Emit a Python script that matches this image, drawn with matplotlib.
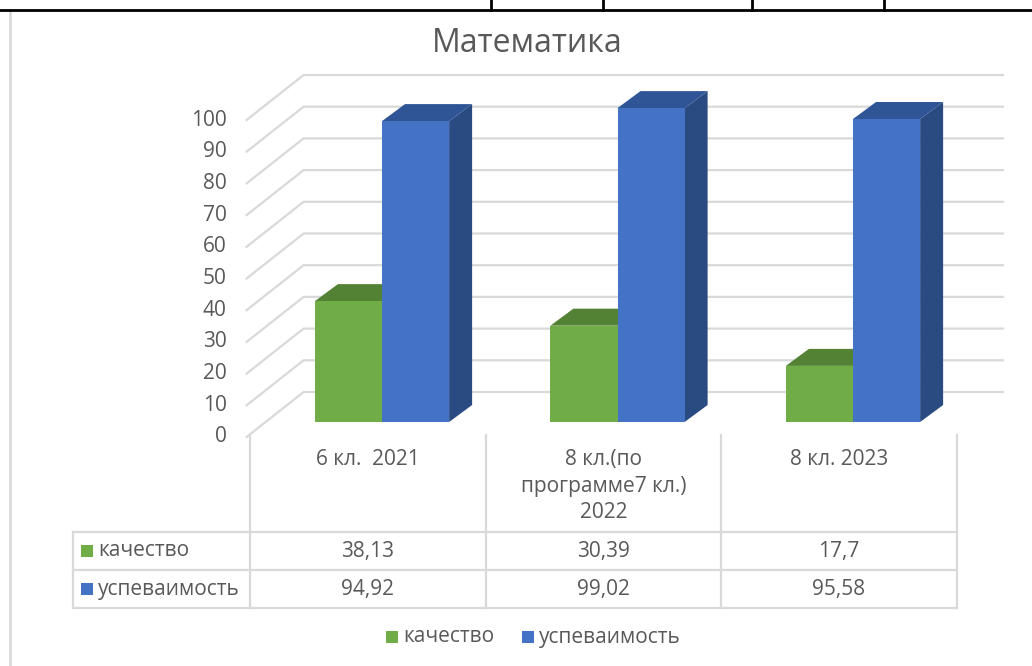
import matplotlib
matplotlib.use("Agg")
import matplotlib.pyplot as plt
from matplotlib.patches import Polygon, Rectangle

# data
categories = ['6 кл.  2021', '8 кл.(по\nпрограмме7 кл.)\n2022', '8 кл. 2023']
kachestvo = [38.13, 30.39, 17.7]
uspevaimost = [94.92, 99.02, 95.58]
kach_text = ['38,13', '30,39', '17,7']
usp_text = ['94,92', '99,02', '95,58']
series = ['качество', 'успеваимость']
yticks = [0, 10, 20, 30, 40, 50, 60, 70, 80, 90, 100]
title = 'Математика'

W, H = 1032, 666
plt.rcParams['font.family'] = ['Open Sans', 'DejaVu Sans']
txt_col = '#595959'
grid_col = '#d9d9d9'
green, green_top = '#70ad47', '#548235'
blue, blue_top, blue_side = '#4472c4', '#2f5597', '#2a4a82'

fig = plt.figure(figsize=(W / 100, H / 100), dpi=100)

# canvas in pixel coords (y down)
cv = fig.add_axes([0, 0, 1, 1])
cv.set_xlim(0, W)
cv.set_ylim(H, 0)
cv.axis('off')

# data axes = front plane of bars, only used for its transform
ax = fig.add_axes([264.25 / W, 1 - 422 / H, 706.5 / W, 317 / H])
ax.set_xlim(-0.5, 2.5)
ax.set_ylim(0, 100)
ax.axis('off')
fig.canvas.draw()

def px(x, v, dx=0, dy=0):
    X, Y = ax.transData.transform((x, v))
    return (X + dx, H - Y + dy)

bw = 0.285            # bar width in category units
bd = (23, -17)        # bar depth offset (px)
ff = (0, 15)          # floor front offset
fb = (57, -30)        # floor back offset
wl, wr = -0.575, 2.395

# walls / gridlines
for v in yticks:
    a = px(wl, v, *ff)
    b = px(wl, v, *fb)
    c = px(wr, v, *fb)
    cv.plot([a[0], b[0], c[0]], [a[1], b[1], c[1]], color=grid_col, lw=1.6, zorder=1)
    cv.text(a[0] - 20, a[1], str(v), ha='right', va='center', fontsize=15, color=txt_col)

# bars
def box(x0, x1, v, front, top, side):
    p0, p1 = px(x0, 0), px(x1, 0)
    q0, q1 = px(x0, v), px(x1, v)
    cv.add_patch(Polygon([p1, q1, (q1[0] + bd[0], q1[1] + bd[1]), (p1[0] + bd[0], p1[1] + bd[1])],
                         closed=True, fc=side, ec='none', zorder=3))
    cv.add_patch(Polygon([q0, q1, (q1[0] + bd[0], q1[1] + bd[1]), (q0[0] + bd[0], q0[1] + bd[1])],
                         closed=True, fc=top, ec='none', zorder=3))
    cv.add_patch(Polygon([p0, p1, q1, q0], closed=True, fc=front, ec='none', zorder=4))

for i in range(len(categories)):
    box(i - bw, i, kachestvo[i], green, green_top, green_top)
    box(i, i + bw, uspevaimost[i], blue, blue_top, blue_side)

# data table
shift = -0.06
bounds = [px(i - 0.5 + shift, 0)[0] for i in range(len(categories) + 1)]
y_head, r1, r2, r3 = 435, 532, 570, 608
tl = 73
for x in bounds:
    cv.plot([x, x], [y_head, r3], color=grid_col, lw=1.6, zorder=1)
for y in [r1, r2, r3]:
    cv.plot([tl, bounds[-1]], [y, y], color=grid_col, lw=1.6, zorder=1)
cv.plot([tl, tl], [r1, r3], color=grid_col, lw=1.6, zorder=1)

for i, cat in enumerate(categories):
    cx = (bounds[i] + bounds[i + 1]) / 2
    cv.text(cx, 449, cat, ha='center', va='top', fontsize=15, color=txt_col, linespacing=1.35)
    cv.text(cx, (r1 + r2) / 2, kach_text[i], ha='center', va='center', fontsize=15, color=txt_col)
    cv.text(cx, (r2 + r3) / 2, usp_text[i], ha='center', va='center', fontsize=15, color=txt_col)

for (ya, yb), name, col in zip([(r1, r2), (r2, r3)], series, [green, blue]):
    ym = (ya + yb) / 2
    cv.add_patch(Rectangle((81, ym - 6), 12, 12, fc=col, ec='none'))
    cv.text(98, ym, name, ha='left', va='center', fontsize=15, color=txt_col)

# legend
cv.add_patch(Rectangle((386, 631), 12, 12, fc=green, ec='none'))
cv.text(403, 637, series[0], ha='left', va='center', fontsize=15, color=txt_col)
cv.add_patch(Rectangle((522, 631), 12, 12, fc=blue, ec='none'))
cv.text(539, 637, series[1], ha='left', va='center', fontsize=15, color=txt_col)

# title
cv.text(527, 44, title, ha='center', va='center', fontsize=23, color=txt_col)

# surrounding frame bits from the document
cv.plot([10, 10], [12, H], color=grid_col, lw=2)
cv.plot([0, W], [10, 10], color='black', lw=2)
for x in [491, 603, 752, 884]:
    cv.plot([x, x], [0, 10], color='black', lw=2)

fig.savefig('out.png', dpi=100)
